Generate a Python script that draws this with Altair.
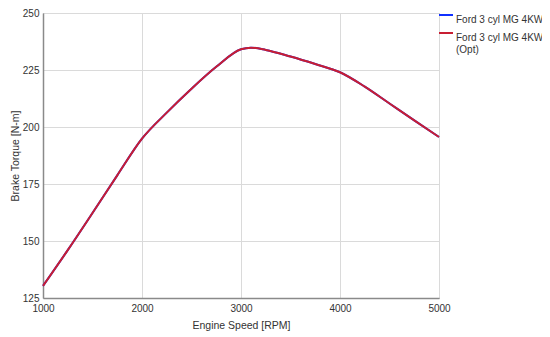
import altair as alt
import pandas as pd

rpm = [1000, 1250, 1500, 1750, 2000, 2250, 2500, 2750, 3000, 3100, 3250, 3500, 3750, 4000, 4250, 4500, 4750, 5000]
torque = [130.3, 146.0, 162.3, 178.8, 194.9, 206.3, 216.8, 226.4, 234.1, 234.8, 233.8, 230.9, 227.6, 224.0, 217.7, 210.3, 202.9, 195.6]
series = ["Ford 3 cyl MG 4KW", "Ford 3 cyl MG 4KW (Opt)"]
colors = ["#1030FF", "#C81E32"]

rows = []
for s in series:
    for r, t in zip(rpm, torque):
        rows.append({"rpm": r, "torque": t, "series": s})
df = pd.DataFrame(rows)

FONT = "Liberation Sans"

chart = alt.Chart(df).mark_line(strokeWidth=2, interpolate="monotone").encode(
    x=alt.X("rpm:Q", scale=alt.Scale(domain=[1000, 5000], nice=False),
            axis=alt.Axis(title="Engine Speed [RPM]", values=[1000, 2000, 3000, 4000, 5000],
                          labelFlush=False, format="d", labelPadding=5, titlePadding=7)),
    y=alt.Y("torque:Q", scale=alt.Scale(domain=[125, 250], nice=False, zero=False),
            axis=alt.Axis(title="Brake Torque [N-m]", values=[125, 150, 175, 200, 225, 250],
                          labelFlush=False, labelPadding=4, titlePadding=2)),
    color=alt.Color("series:N", scale=alt.Scale(domain=series, range=colors),
                    legend=alt.Legend(title=None, orient="none", legendX=395, legendY=-6,
                                      symbolType="stroke", symbolStrokeWidth=2, symbolSize=196,
                                      labelFontSize=10, labelFont=FONT, labelColor="#333333",
                                      labelBaseline="top", labelLimit=200,
                                      rowPadding=0, padding=0, labelOffset=2,
                                      labelExpr="datum.label == 'Ford 3 cyl MG 4KW (Opt)' ? ['Ford 3 cyl MG 4KW', '(Opt)'] : datum.label")),
).properties(
    width=396, height=285,
    autosize=alt.AutoSizeParams(type="none"),
    padding={"left": 35, "top": 5, "right": 103, "bottom": 35},
).configure_view(
    stroke="#8a8a8a", strokeWidth=1
).configure_axis(
    domainColor="#8a8a8a", domainWidth=1.5, gridColor="#dadada", tickSize=0,
    labelFont=FONT, labelFontSize=10, labelColor="#333333",
    titleFont=FONT, titleFontSize=10.5, titleFontWeight="normal", titleColor="#333333",
    labelOverlap=False,
)

chart.save("out.html", embed_options={"renderer": "svg", "actions": False})
